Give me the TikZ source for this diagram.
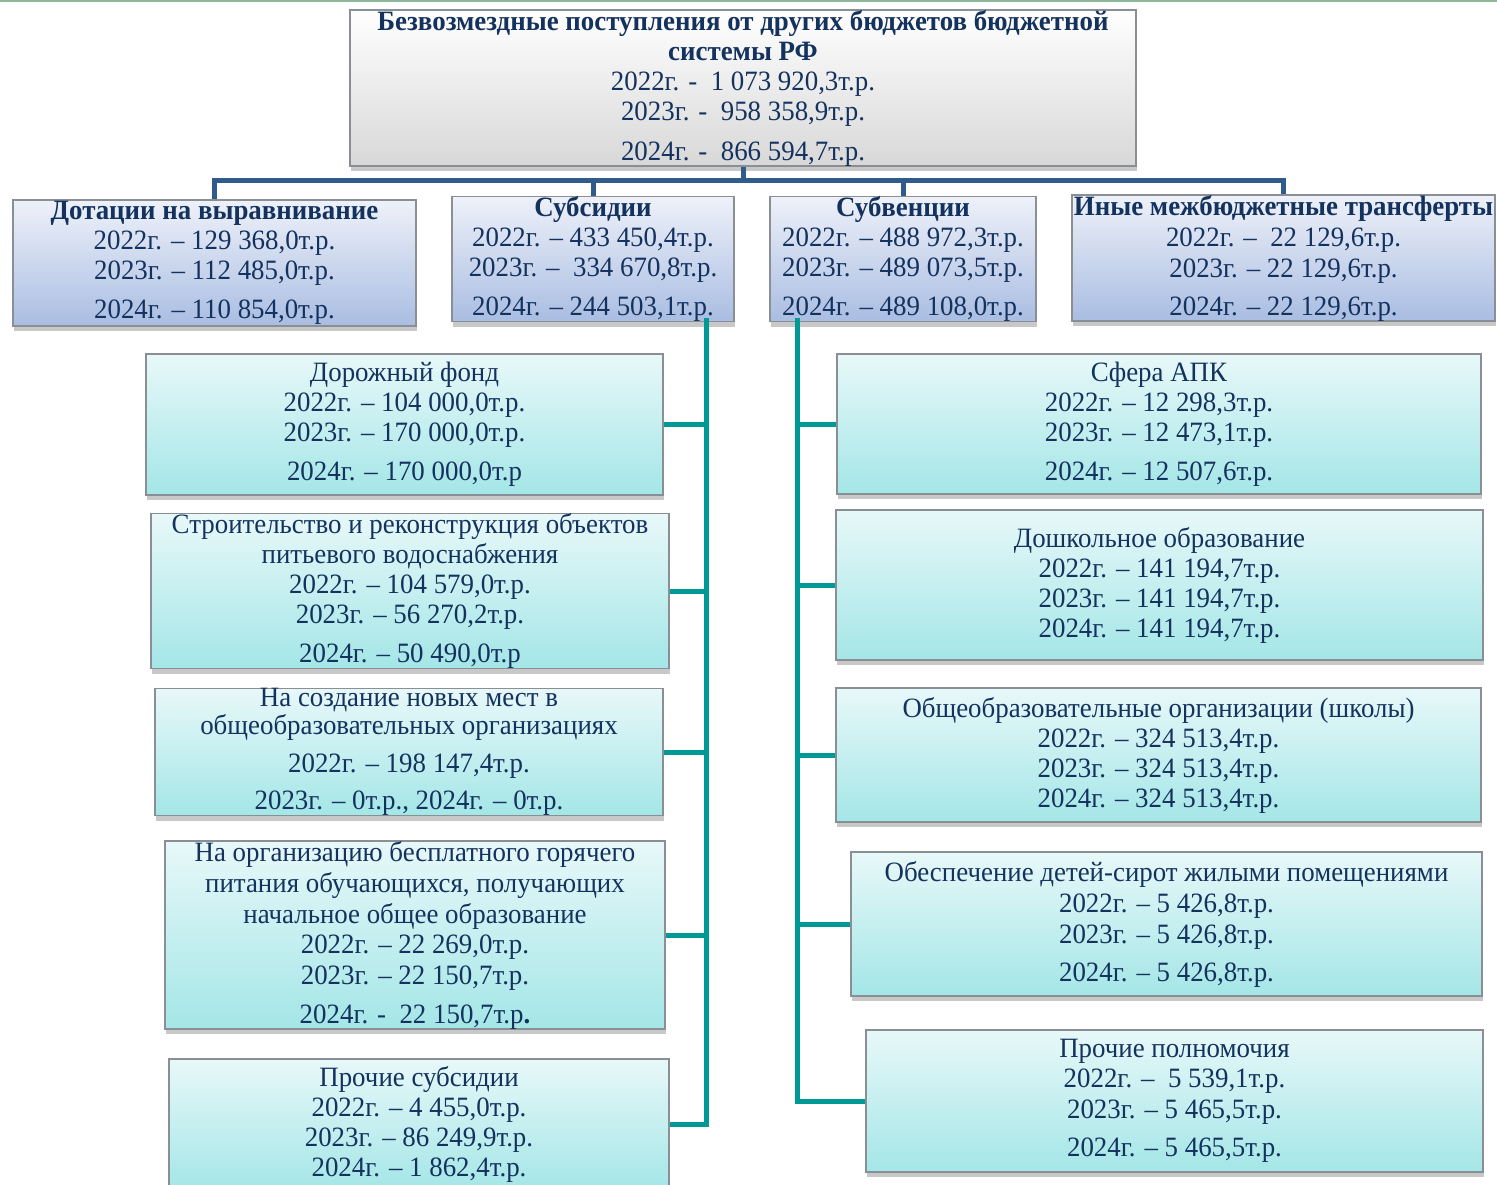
\documentclass[tikz,border=0pt]{standalone}
\usepackage{fontspec}
\setmainfont{Liberation Serif}[FakeStretch=0.96]
\usetikzlibrary{shadows}
\definecolor{navy}{HTML}{14325E}
\definecolor{bordergray}{HTML}{8A8F96}
\definecolor{greyB}{HTML}{D8D8D8}
\definecolor{blueT}{HTML}{EEF1F9}
\definecolor{blueB}{HTML}{A9BDE2}
\definecolor{tealT}{HTML}{E8F8F9}
\definecolor{tealB}{HTML}{A4E6E7}
\definecolor{busblue}{HTML}{2F5C8A}
\definecolor{busteal}{HTML}{009A96}
\definecolor{topgreen}{HTML}{8FB89A}
\tikzset{
  box/.style={draw=bordergray, line width=1.2pt, inner sep=0pt, align=center,
    text=navy, font=\fontsize{28}{30}\selectfont,
    drop shadow={shadow xshift=1pt, shadow yshift=-5pt, opacity=0.3, fill=black!70}},
  greybox/.style={box, top color=white, bottom color=greyB},
  bluebox/.style={box, top color=blueT, bottom color=blueB},
  tealbox/.style={box, top color=tealT, bottom color=tealB},
  bus/.style={draw=busblue, line width=5pt},
  tl/.style={draw=busteal, line width=5pt},
}
\begin{document}
\begin{tikzpicture}[x=1pt,y=-1pt]
\useasboundingbox (0,0) rectangle (1497,1185);
\fill[white] (0,0) rectangle (1497,1185);
\fill[topgreen] (0,0) rectangle (1497,2.5);

% top
\node[greybox, minimum width=786pt, minimum height=152pt] (top) at (743,88)
 {\textbf{Безвозмездные поступления от других бюджетов бюджетной}\\
  \textbf{системы РФ}\\
  2022г. -\ \ 1 073 920,3т.р.\\
  2023г. -\ \ 958 358,9т.р.\\[10pt]
  2024г. -\ \ 866 594,7т.р.};

% level 2
\node[bluebox, minimum width=403pt, minimum height=126pt] (dot) at (214.5,263)
 {\textbf{Дотации на выравнивание}\\
  2022г. – 129 368,0т.р.\\
  2023г. – 112 485,0т.р.\\[9pt]
  2024г. – 110 854,0т.р.};
\node[bluebox, minimum width=282pt, minimum height=118pt] (sub) at (593,259)
 {\textbf{Субсидии}\\
  2022г. – 433 450,4т.р.\\
  2023г. –\ \ 334 670,8т.р.\\[9pt]
  2024г. – 244 503,1т.р.};
\node[bluebox, minimum width=266pt, minimum height=118pt] (subv) at (903,259)
 {\textbf{Субвенции}\\
  2022г. – 488 972,3т.р.\\
  2023г. – 489 073,5т.р.\\[9pt]
  2024г. – 489 108,0т.р.};
\node[bluebox, minimum width=423pt, minimum height=116pt] (inye) at (1283.5,258)
 {\textbf{Иные межбюджетные трансферты}\\[1pt]
  2022г. –\ \ 22 129,6т.р.\\[1pt]
  2023г. – 22 129,6т.р.\\[8pt]
  2024г. – 22 129,6т.р.};

% left column
\node[tealbox, minimum width=517pt, minimum height=141pt] (l1) at (404.5,424.5)
 {Дорожный фонд\\
  2022г. – 104 000,0т.р.\\
  2023г. – 170 000,0т.р.\\[9pt]
  2024г. – 170 000,0т.р};
\node[tealbox, minimum width=518pt, minimum height=150pt] (l2) at (410,591)
 {Строительство и реконструкция объектов\\
  питьевого водоснабжения\\
  2022г. – 104 579,0т.р.\\
  2023г. – 56 270,2т.р.\\[9pt]
  2024г. – 50 490,0т.р};
\node[tealbox, minimum width=508pt, minimum height=126pt] (l3) at (409,752)
 {На создание новых мест в\\[-2pt]
  общеобразовательных организациях\\[8pt]
  2022г. – 198 147,4т.р.\\[7pt]
  2023г. – 0т.р., 2024г. – 0т.р.};
\node[tealbox, minimum width=500pt, minimum height=186pt] (l4) at (415,935)
 {На организацию бесплатного горячего\\[1pt]
  питания обучающихся, получающих\\[1pt]
  начальное общее образование\\
  2022г. – 22 269,0т.р.\\[1pt]
  2023г. – 22 150,7т.р.\\[9pt]
  2024г. -\ \ 22 150,7т.р\textbf{.}};
\node[tealbox, minimum width=500pt, minimum height=131pt] (l5) at (419,1124.5)
 {Прочие субсидии\\
  2022г. – 4 455,0т.р.\\
  2023г. – 86 249,9т.р.\\
  2024г. – 1 862,4т.р.};

% right column
\node[tealbox, minimum width=644pt, minimum height=140pt] (r1) at (1159,424)
 {Сфера АПК\\
  2022г. – 12 298,3т.р.\\
  2023г. – 12 473,1т.р.\\[9pt]
  2024г. – 12 507,6т.р.};
\node[tealbox, minimum width=647pt, minimum height=150pt] (r2) at (1159.5,585)
 {Дошкольное образование\\
  2022г. – 141 194,7т.р.\\
  2023г. – 141 194,7т.р.\\
  2024г. – 141 194,7т.р.};
\node[tealbox, minimum width=645pt, minimum height=134pt] (r3) at (1158.5,755)
 {Общеобразовательные организации (школы)\\
  2022г. – 324 513,4т.р.\\
  2023г. – 324 513,4т.р.\\
  2024г. – 324 513,4т.р.};
\node[tealbox, minimum width=631pt, minimum height=144pt] (r4) at (1166.5,924)
 {Обеспечение детей-сирот жилыми помещениями\\[1pt]
  2022г. – 5 426,8т.р.\\[1pt]
  2023г. – 5 426,8т.р.\\[8pt]
  2024г. – 5 426,8т.р.};
\node[tealbox, minimum width=617pt, minimum height=142pt] (r5) at (1174.5,1101)
 {Прочие полномочия\\
  2022г. –\ \ 5 539,1т.р.\\[1pt]
  2023г. – 5 465,5т.р.\\[8pt]
  2024г. – 5 465,5т.р.};

% blue bus
\coordinate (j) at (743,181);
\draw[bus] (top.south) -- (j);
\draw[bus] (dot.north) |- (j) -| (inye.north);
\draw[bus] (sub.north) -- (sub.north |- j);
\draw[bus] (subv.north) -- (subv.north |- j);

% teal buses
\coordinate (lt) at (706,318);
\draw[tl] (lt) |- (l5.east);
\foreach \n in {l1,l2,l3,l4} \draw[tl] (\n.east) -- (\n.east -| lt);
\coordinate (rt) at (797,318);
\draw[tl] (rt) |- (r5.west);
\foreach \n in {r1,r2,r3,r4} \draw[tl] (\n.west) -- (\n.west -| rt);
\end{tikzpicture}
\end{document}
